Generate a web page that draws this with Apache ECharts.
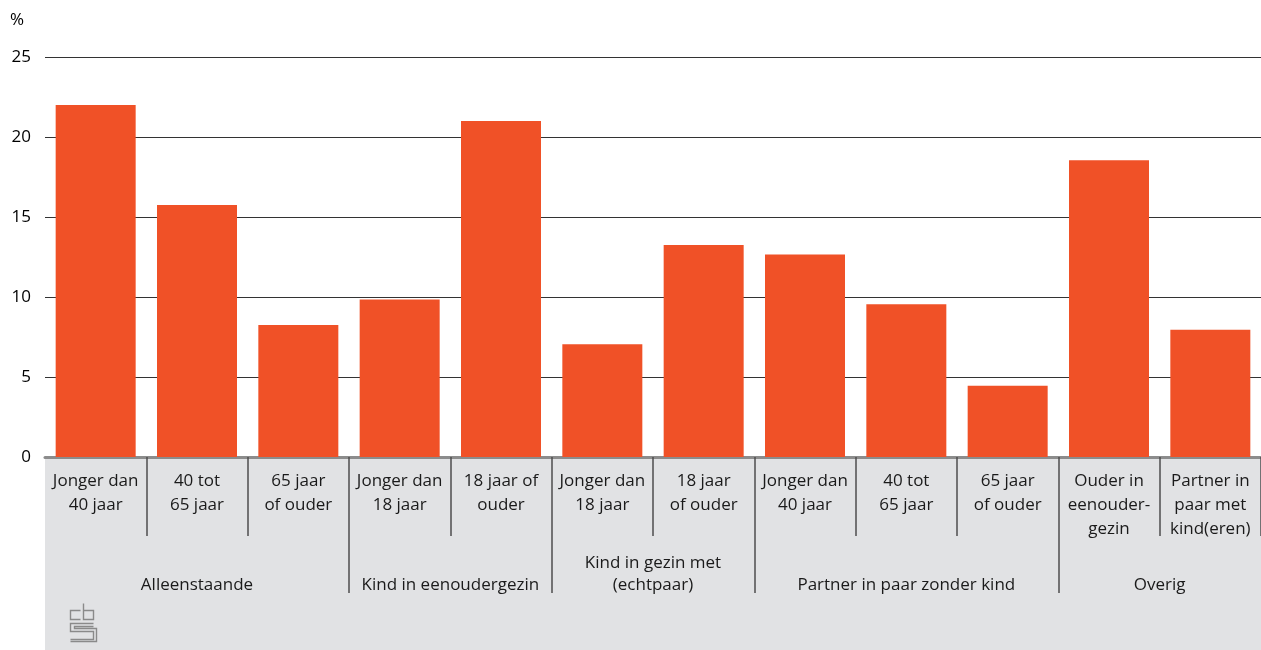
<!DOCTYPE html>
<html>
<head>
<meta charset="utf-8">
<script src="https://cdn.jsdelivr.net/npm/echarts@6/dist/echarts.min.js"></script>
<style>
  html, body { margin: 0; padding: 0; background: #fff; }
  #chart { width: 1261px; height: 650px; }
</style>
</head>
<body>
<div id="chart"></div>
<script>
// categorieën (onderste as, eerste niveau)
var categories = [
  "Jonger dan\n40 jaar", "40 tot\n65 jaar", "65 jaar\nof ouder",
  "Jonger dan\n18 jaar", "18 jaar of\nouder",
  "Jonger dan\n18 jaar", "18 jaar\nof ouder",
  "Jonger dan\n40 jaar", "40 tot\n65 jaar", "65 jaar\nof ouder",
  "Ouder in\neenouder-\ngezin", "Partner in\npaar met\nkind(eren)"
];
// groepen (tweede niveau) en aantal categorieën per groep
var groupNames = ["Alleenstaande", "Kind in eenoudergezin", "Kind in gezin met\n(echtpaar)", "Partner in paar zonder kind", "Overig"];
var groupSizes = [3, 2, 2, 3, 2];
// waarden in %
var values = [22.0, 15.75, 8.25, 9.85, 21.0, 7.05, 13.25, 12.65, 9.55, 4.45, 18.55, 7.95];
var yTicks = { min: 0, max: 25, interval: 5 };

// halve-stappen as voor de groepslabels: punt j ligt op j/2 categorieën
var slots = [];
for (var j = 0; j <= categories.length * 2; j++) slots.push(String(j));
var boundaries = {}, centers = {};
var pos = 0;
groupSizes.forEach(function (s, i) {
  centers[(pos * 2 + s)] = groupNames[i];
  pos += s;
  if (pos < categories.length) boundaries[pos * 2] = true;
});

var font = "Open Sans";
var logoLine = { fill: "none", stroke: "#8a8a8a", lineWidth: 1.4 };
var chart = echarts.init(document.getElementById("chart"));
var option = {
  animation: false,
  textStyle: { fontFamily: font },
  title: {
    text: "%",
    left: 5,
    top: 7,
    textStyle: { fontFamily: font, fontSize: 17, fontWeight: "normal", color: "#000" }
  },
  grid: { left: 45, right: 0, top: 57, bottom: 193 },
  graphic: [
    {
      type: "rect",
      z: -10,
      shape: { x: 45, y: 457, width: 1216, height: 193 },
      style: { fill: "#e1e2e4" }
    },
    {
      // cbs-logo, ruw nagetekend
      type: "group",
      left: 68,
      top: 601,
      children: [
        { type: "polyline", shape: { points: [[11, 8], [1, 8], [1, 17], [11, 17]] }, style: logoLine },
        { type: "polyline", shape: { points: [[14, 1], [14, 17], [24, 17], [24, 8], [14, 8]] }, style: logoLine },
        { type: "polyline", shape: { points: [[24, 21], [1, 21], [1, 29], [24, 29], [24, 37], [1, 37]] }, style: logoLine },
        { type: "polyline", shape: { points: [[24, 24], [5, 24], [5, 26], [27, 26], [27, 39], [1, 39]] }, style: logoLine }
      ]
    }
  ],
  xAxis: [
    {
      type: "category",
      data: categories,
      position: "bottom",
      axisLine: { show: true, lineStyle: { color: "#8c8c8c", width: 3 } },
      axisTick: {
        show: true,
        interval: function (index) { return index !== 0; },
        length: 79,
        lineStyle: { color: "#4d4d4d", width: 1.5 }
      },
      axisLabel: {
        interval: 0,
        margin: 12,
        color: "#1a1a1a",
        fontSize: 17,
        lineHeight: 24,
        fontFamily: font
      }
    },
    {
      type: "category",
      data: slots,
      position: "bottom",
      boundaryGap: false,
      axisLine: { show: false },
      axisTick: {
        show: true,
        length: 136,
        interval: function (index) { return !!boundaries[index]; },
        lineStyle: { color: "#4d4d4d", width: 1.5 }
      },
      axisLabel: {
        margin: 139,
        verticalAlign: "bottom",
        interval: function (index) { return centers[index] !== undefined; },
        formatter: function (value, index) { return centers[index] || ""; },
        color: "#1a1a1a",
        fontSize: 17,
        lineHeight: 22,
        fontFamily: font
      }
    }
  ],
  yAxis: {
    type: "value",
    min: yTicks.min,
    max: yTicks.max,
    interval: yTicks.interval,
    axisLine: { show: false },
    axisTick: { show: false },
    axisLabel: { color: "#000", fontSize: 17, margin: 14, fontFamily: font },
    splitLine: { show: true, lineStyle: { color: "#333", width: 1 } }
  },
  series: [
    {
      type: "bar",
      xAxisIndex: 0,
      barWidth: 80,
      data: values,
      itemStyle: { color: "#f05127" },
      z: 3
    }
  ]
};
chart.setOption(option);
</script>
</body>
</html>
